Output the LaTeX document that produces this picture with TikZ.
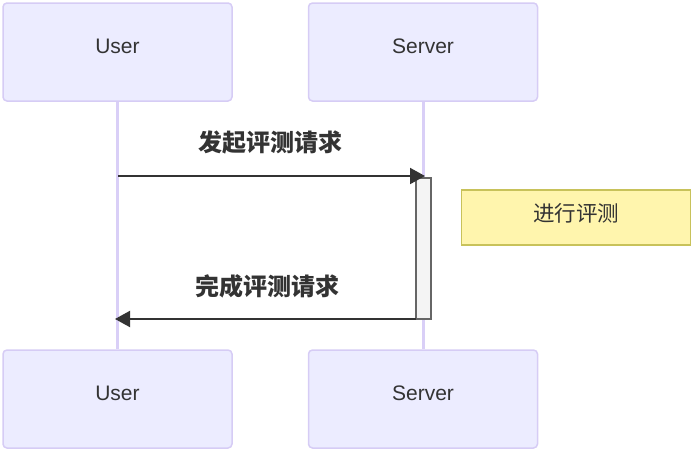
\documentclass[tikz,border=0pt]{standalone}
\usepackage{fontspec}
\setmainfont{Liberation Sans}
\newfontfamily\cjk{Noto Sans CJK SC}
\usetikzlibrary{arrows.meta}
\definecolor{actfill}{HTML}{ECECFF}
\definecolor{actdraw}{HTML}{D6CCF5}
\definecolor{lifec}{HTML}{D9CFF7}
\definecolor{msgc}{HTML}{333333}
\definecolor{barfill}{HTML}{F4F4F4}
\definecolor{bardraw}{HTML}{666666}
\definecolor{notefill}{HTML}{FFF5AD}
\definecolor{notedraw}{HTML}{C8C25A}
\tikzset{
  actor/.style={draw=actdraw, fill=actfill, line width=1.5pt, rounded corners=4pt,
    minimum width=229pt, minimum height=98pt, inner sep=0pt, text=msgc,
    text height=15pt, text depth=13pt,
    font=\fontsize{21}{24}\selectfont},
  life/.style={draw=lifec, line width=3pt},
  msg/.style={draw=msgc, line width=2pt, -{Triangle[length=15pt,width=16pt]}},
  msglabel/.style={text=msgc, font=\cjk\bfseries\fontsize{24}{28}\selectfont, inner sep=0pt},
  actbar/.style={draw=bardraw, fill=barfill, line width=1.2pt},
  note/.style={draw=notedraw, fill=notefill, line width=1.5pt, minimum width=229pt,
    minimum height=55pt, inner sep=0pt, text=msgc, text height=17pt, text depth=10pt,
    font=\cjk\fontsize{21.5}{24}\selectfont}
}
\begin{document}
\begin{tikzpicture}[x=1pt,y=-1pt]
\useasboundingbox (0,0) rectangle (691,450);
\node[actor] (usert) at (117.5,52) {User};
\node[actor] (servert) at (423,52) {Server};
\node[actor] (userb) at (117.5,399) {User};
\node[actor] (serverb) at (423,399) {Server};
\draw[life] (usert.south) -- (userb.north);
\draw[life] (servert.south) -- (serverb.north);
\node[actbar, minimum width=15pt, minimum height=141pt, inner sep=0pt] (bar) at (423.5,248.5) {};
\coordinate (u1) at (118,176);
\coordinate (s1) at (425,176);
\coordinate (b2) at (416,319);
\coordinate (u2) at (115,319);
\draw[msg] (u1) -- (s1);
\draw[msg] (b2) -- (u2);
\node[msglabel] (l1) at (270,142) {发起评测请求};
\node[msglabel] (l2) at (267,286) {完成评测请求};
\node[note] (n) at (576,217.5) {进行评测};
\end{tikzpicture}
\end{document}
